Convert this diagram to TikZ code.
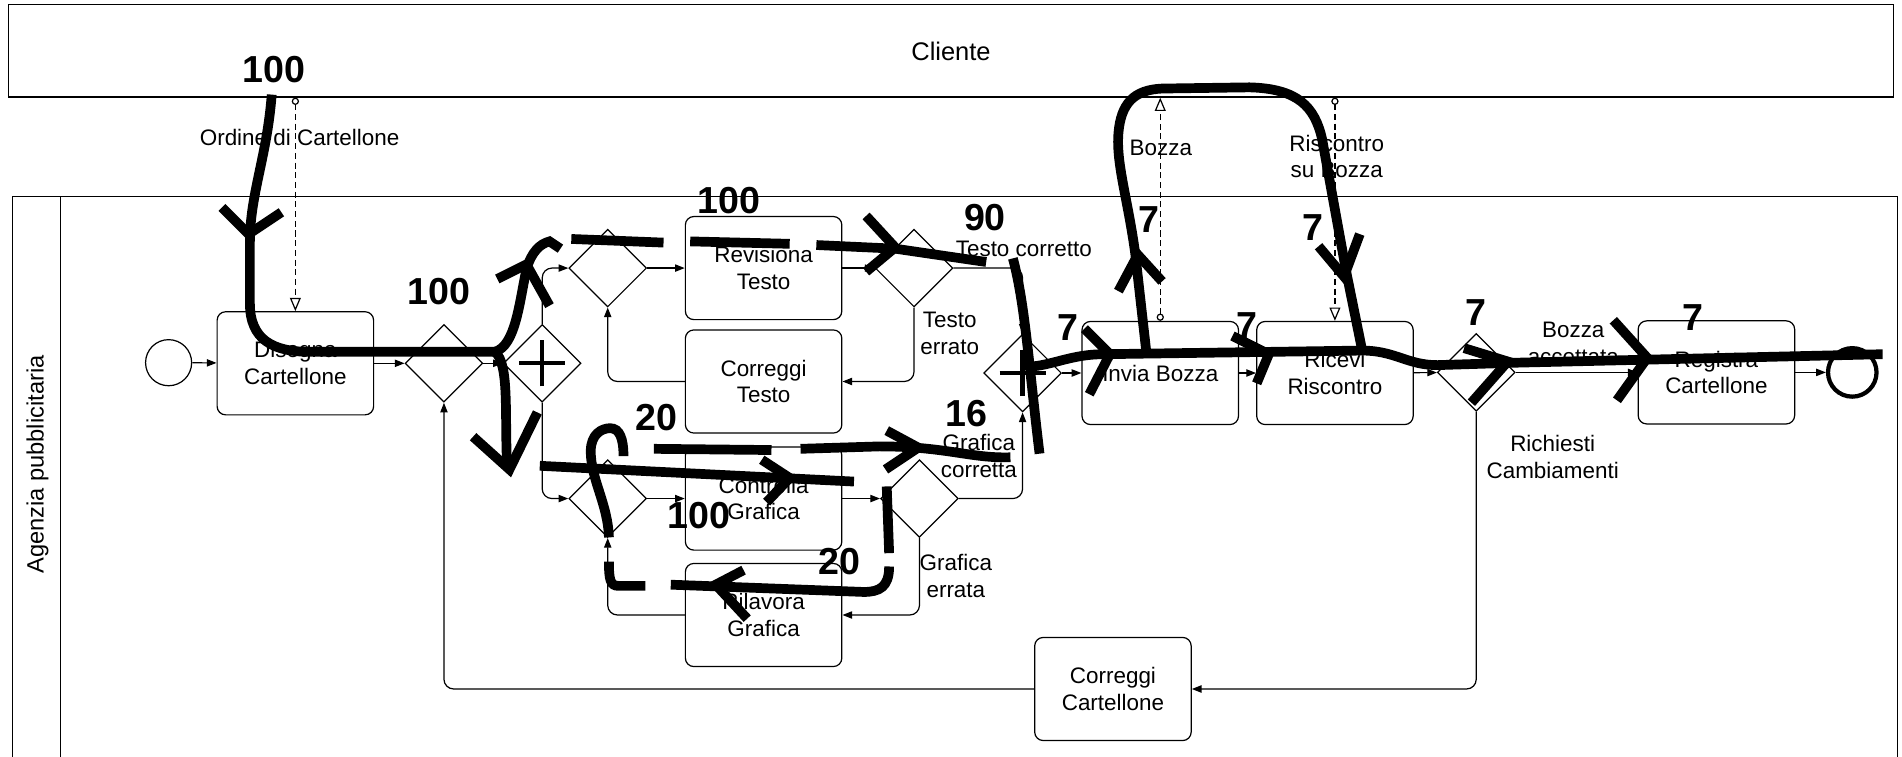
\documentclass[tikz,border=0pt]{standalone}
\usepackage{fontspec}
\setmainfont{Liberation Sans}
\usetikzlibrary{arrows.meta,shapes.geometric}

\begin{document}
\begin{tikzpicture}[x=1pt,y=-1pt,
    txt/.style={font=\fontsize{18.5}{22}\selectfont,align=center},
    task/.style={txt,draw,line width=1pt,rounded corners=7pt,minimum width=129pt,minimum height=85pt,inner sep=2pt},
    gw/.style={draw,diamond,line width=1pt,minimum width=64pt,minimum height=64pt,inner sep=0pt},
    andgw/.style={gw,path picture={
        \draw[line width=3.5pt] ([xshift=-19pt]path picture bounding box.center) -- ([xshift=19pt]path picture bounding box.center)
          ([yshift=-19pt]path picture bounding box.center) -- ([yshift=19pt]path picture bounding box.center);}},
    event/.style={draw,circle,line width=1pt,minimum size=38pt,inner sep=0pt},
    flow/.style={line width=1pt,rounded corners=8pt,-{Triangle[length=8pt,width=6pt]}},
    msg/.style={line width=1pt,dash pattern=on 5pt off 3pt,{Circle[open,length=6pt,width=6pt]}-{Triangle[open,length=11pt,width=9pt]}},
    num/.style={font=\fontsize{31}{31}\selectfont\bfseries},
    token/.style={line width=8pt},
    chev/.style={line width=8pt,line join=miter}]

\useasboundingbox (0,0) rectangle (1568,624);
\clip (0,0) rectangle (1568,624);

\node[draw,line width=1pt,minimum width=1554pt,minimum height=76pt,inner sep=0pt,font=\fontsize{21}{24}\selectfont] (cliente) at (784,42) {Cliente};
\node[draw,line width=1pt,minimum width=1554pt,minimum height=600pt,inner sep=0pt] (agenzia) at (787,462) {};
\draw[line width=1pt] (50,162) -- (50,640);
\node[txt,rotate=90,font=\fontsize{19.5}{22}\selectfont] (agenziaTxt) at (31,383) {Agenzia pubblicitaria};

\node[event] (start) at (139,299) {};
\node[task] (disegno) at (243.5,299.5) {Disegna\\Cartellone};
\node[gw] (xorIn) at (366,299.5) {};
\node[andgw] (andSplit) at (447,299.5) {};
\node[gw] (xorTesto) at (501,221) {};
\node[task] (revisiona) at (629.5,221) {Revisiona\\Testo};
\node[gw] (xorTestoOk) at (753.5,221) {};
\node[task] (correggiTesto) at (629.5,314.5) {Correggi\\Testo};
\node[gw] (xorGrafica) at (501,411) {};
\node[task] (controlla) at (629.5,411) {Controlla\\Grafica};
\node[gw] (xorGraficaOk) at (758,411) {};
\node[task] (rilavora) at (629.5,507) {Rilavora\\Grafica};
\node[andgw] (andJoin) at (843,307.5) {};
\node[task] (invia) at (956.5,307.5) {Invia Bozza};
\node[task] (ricevi) at (1100.5,307.5) {Ricevi\\Riscontro};
\node[gw] (xorBozza) at (1217,307) {};
\node[task] (registra) at (1415,307) {Registra\\Cartellone};
\node[event,line width=3.5pt,minimum size=40pt] (fine) at (1527,307) {};
\node[task] (correggiCart) at (917.5,568) {Correggi\\Cartellone};

\draw[flow] (start) -- (disegno);
\draw[flow] (disegno) -- (xorIn);
\draw[flow] (xorIn) -- (andSplit);
\draw[flow] (andSplit.north) |- (xorTesto.west);
\draw[flow] (andSplit.south) |- (xorGrafica.west);
\draw[flow] (xorTesto) -- (revisiona);
\draw[flow] (revisiona) -- (xorTestoOk);
\draw[flow] (xorTestoOk.east) -| (andJoin.north);
\draw[flow] (xorTestoOk.south) |- (correggiTesto.east);
\draw[flow] (correggiTesto.west) -| (xorTesto.south);
\draw[flow] (xorGrafica) -- (controlla);
\draw[flow] (controlla) -- (xorGraficaOk);
\draw[flow] (xorGraficaOk.east) -| (andJoin.south);
\draw[flow] (xorGraficaOk.south) |- (rilavora.east);
\draw[flow] (rilavora.west) -| (xorGrafica.south);
\draw[flow] (andJoin) -- (invia);
\draw[flow] (invia) -- (ricevi);
\draw[flow] (ricevi) -- (xorBozza);
\draw[flow] (xorBozza) -- (registra);
\draw[flow] (registra) -- (fine);
\draw[flow] (xorBozza.south) |- (correggiCart.east);
\draw[flow] (correggiCart.west) -| (xorIn.south);

\draw[msg] (disegno.north |- cliente.south) -- (disegno.north);
\draw[msg] (invia.north) -- (invia.north |- cliente.south);
\draw[msg] (ricevi.north |- cliente.south) -- (ricevi.north);

\node[txt] (lOrdine) at (247,113) {Ordine di Cartellone};
\node[txt] (lBozza) at (957,122) {Bozza};
\node[txt] (lRiscontro) at (1102,129) {Riscontro\\su Bozza};
\node[txt] (lTestoOk) at (844,205) {Testo corretto};
\node[txt] (lTestoNo) at (783,275) {Testo\\errato};
\node[txt] (lGraficaOk) at (807,376) {Grafica\\corretta};
\node[txt] (lGraficaNo) at (788,475) {Grafica\\errata};
\node[txt] (lAccettata) at (1297,283) {Bozza\\accettata};
\node[txt] (lCambi) at (1280,377) {Richiesti\\Cambiamenti};

\node[num] (n1) at (226,57) {100};
\node[num] (n2) at (362,240) {100};
\node[num] (n3) at (601,165) {100};
\node[num] (n4) at (812,179) {90};
\node[num] (n5) at (880,270) {7};
\node[num] (n6) at (947,181) {7};
\node[num] (n7) at (1028,268) {7};
\node[num] (n8) at (1082,188) {7};
\node[num] (n9) at (1217,258) {7};
\node[num] (n10) at (1396,262) {7};
\node[num] (n11) at (541,344) {20};
\node[num] (n12) at (797,341) {16};
\node[num] (n13) at (576,425) {100};
\node[num] (n14) at (692,463) {20};

\draw[token] (224,78) .. controls (220,130) and (206,160) .. (206,200) -- (206,250) .. controls (206,280) and (225,290) .. (255,290) -- (408,290);
\draw[chev] (183,171) -- (205,193) -- (232,175);
\draw[token] (408,290) .. controls (425,285) and (428,250) .. (434,222) .. controls (438,208) and (445,201) .. (453,199) -- (462,205);
\draw[chev] (410,230) -- (434,218) -- (453,252);
\draw[token] (408,290) .. controls (420,300) and (416,340) .. (418,383);
\draw[chev] (390,360) -- (420,387) -- (443,340);

\draw[token] (471,197) -- (547,200);
\draw[token] (569,199) -- (651,201);
\draw[token] (673,202) -- (738,205) -- (813,216);
\draw[chev] (714,178) -- (738,204) -- (714,224);
\draw[token] (835,213) .. controls (845,250) and (848,300) .. (857,374);

\draw[token] (852,302) .. controls (870,300) and (885,292) .. (910,292) -- (1123,289) .. controls (1150,289) and (1160,301) .. (1185,301) -- (1250,299) -- (1552,292);
\draw[chev] (894,271) -- (915,292) -- (898,325);
\draw[chev] (1016,277) -- (1046,292) -- (1036,316);
\draw[chev] (1207,287) -- (1243,298) -- (1213,332);
\draw[chev] (1330,264) -- (1358,295) -- (1333,330);

\draw[token] (945,290) -- (936,210) .. controls (930,165) and (920,135) .. (922,110) .. controls (924,85) and (935,74) .. (958,73) -- (1030,72) .. controls (1070,73) and (1084,88) .. (1090,115) -- (1110,225) -- (1123,289);
\draw[chev] (922,240) -- (938,210) -- (958,232);
\draw[chev] (1087,203) -- (1108,228) -- (1121,193);

\draw[token] (445,384) -- (704,397);
\draw[chev] (628,379) -- (651,394) -- (632,414);

\draw[token] (731,401) -- (733,456);
\draw[token] (733,467) .. controls (733,484) and (725,488) .. (712,488) -- (553,482);
\draw[chev] (613,470) -- (590,482) -- (616,510);
\draw[token] (532,483) -- (510,483) .. controls (503,483) and (502,478) .. (502,463);
\draw[token] (502,443) .. controls (501,415) and (487,395) .. (487,372) .. controls (487,358) and (496,353) .. (503,353) .. controls (511,353) and (514,362) .. (514,376);
\draw[token] (539,370) -- (636,371);
\draw[token] (660,370) -- (725,368) .. controls (780,368) and (800,378) .. (833,377);
\draw[chev] (731,355) -- (757,369) -- (730,387);
\end{tikzpicture}
\end{document}
